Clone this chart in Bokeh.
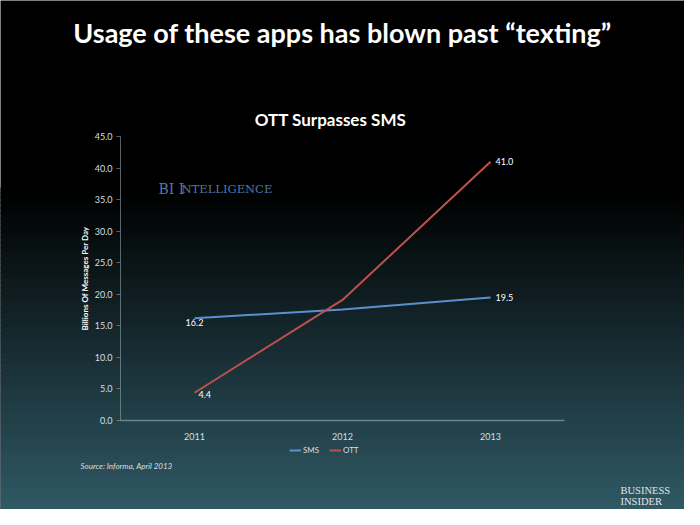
from bokeh.plotting import figure
from bokeh.models import (Range1d, FactorRange, FixedTicker, NumeralTickFormatter, Label,
                          BoxAnnotation, Legend, LegendItem, LinearAxis, CategoricalAxis)
from bokeh.core.properties import value
from bokeh.embed import file_html
from bokeh.resources import INLINE

# ---- data ----
years = ["2011", "2012", "2013"]
sms = [16.2, 17.6, 19.5]
ott = [4.4, 19.1, 41.0]
y_ticks = [0, 5, 10, 15, 20, 25, 30, 35, 40, 45]
main_title = "Usage of these apps has blown past \u201ctexting\u201d"
chart_title = "OTT Surpasses SMS"
y_label = "Billions Of Messages Per Day"
source_note = "Source: Informa, April 2013"
series_names = ["SMS", "OTT"]

FONT = "Lato"
W, H = 684, 509

# plot-area geometry in canvas pixels (the frame fills the whole canvas)
PA_LEFT, PA_RIGHT, PA_TOP, PA_BOTTOM = 121, 565, 136, 420
Y_MIN, Y_MAX = 0.0, 45.0
pad = ((PA_LEFT + (W - PA_RIGHT)) / 2) / ((PA_RIGHT - PA_LEFT) / len(years))
ppu = (PA_BOTTOM - PA_TOP) / (Y_MAX - Y_MIN)
y_range = Range1d(Y_MIN - (H - PA_BOTTOM) / ppu, Y_MAX + PA_TOP / ppu)
x_range = FactorRange(factors=years, range_padding=pad, range_padding_units="absolute")

p = figure(width=W, height=H, x_range=x_range, y_range=y_range,
           x_axis_location=None, y_axis_location=None,
           output_backend="svg", toolbar_location=None,
           min_border=0)
p.border_fill_color = "black"
p.background_fill_color = "black"
p.outline_line_color = None
p.xgrid.grid_line_color = None
p.ygrid.grid_line_color = None


# screen coords (frame = canvas, y up) from reference pixels
def sx(rx):
    return rx - 8


def sy(ry):
    return H + 8 - ry


# background gradient (black until ~y=200, then to teal at bottom)
top_c = (0, 0, 0)
bot_c = (50, 94, 106)
start, end, step = 195, 530, 5
n = (end - start) // step
for i in range(n + 1):
    t = i / n
    r = int(top_c[0] + (bot_c[0] - top_c[0]) * t)
    g = int(top_c[1] + (bot_c[1] - top_c[1]) * t)
    b = int(top_c[2] + (bot_c[2] - top_c[2]) * t)
    ry0 = start + i * step
    p.add_layout(BoxAnnotation(left=-10, right=W + 10, top=sy(ry0), bottom=sy(ry0 + step + 1),
                               left_units="screen", right_units="screen",
                               top_units="screen", bottom_units="screen",
                               fill_color=f"#{r:02x}{g:02x}{b:02x}", fill_alpha=1.0,
                               line_alpha=0, level="underlay"))

axis_col = "#8fa3a8"
lab_col = "#d8dfe0"

# y axis
yaxis = LinearAxis(fixed_location=0, bounds=(Y_MIN, Y_MAX))
yaxis.ticker = FixedTicker(ticks=y_ticks)
yaxis.formatter = NumeralTickFormatter(format="0.0")
yaxis.major_label_text_color = lab_col
yaxis.major_label_text_font = FONT
yaxis.major_label_text_font_size = "9px"
yaxis.axis_line_color = axis_col
yaxis.axis_line_alpha = 0.6
yaxis.major_tick_line_color = axis_col
yaxis.major_tick_line_alpha = 0.6
yaxis.major_tick_out = 4
yaxis.major_tick_in = 0
yaxis.minor_tick_line_color = None
yaxis.major_label_standoff = 4
yaxis.axis_label = y_label
yaxis.axis_label_text_font = FONT
yaxis.axis_label_text_font_style = "bold"
yaxis.axis_label_text_font_size = "8px"
yaxis.axis_label_text_color = "white"
yaxis.axis_label_standoff = 2
p.add_layout(yaxis, "left")

# x axis
xaxis = CategoricalAxis(fixed_location=Y_MIN, bounds=(0, len(years)))
xaxis.major_label_text_color = lab_col
xaxis.major_label_text_font = FONT
xaxis.major_label_text_font_size = "9px"
xaxis.axis_line_color = axis_col
xaxis.axis_line_alpha = 0.7
xaxis.axis_line_width = 1.5
xaxis.major_tick_line_color = None
xaxis.minor_tick_line_color = None
xaxis.major_label_standoff = 6
p.add_layout(xaxis, "below")

# lines
r_sms = p.line(x=years, y=sms, line_color="#5c8fcf", line_width=2)
r_ott = p.line(x=years, y=ott, line_color="#c0504d", line_width=2)

# data labels
lab_kw = dict(text_font=value(FONT), text_font_size=value("9px"), text_color="white")
p.text(x=[years[0]], y=[sms[0]], text=[f"{sms[0]:.1f}"], text_align="center",
       text_baseline="top", y_offset=1, **lab_kw)
p.text(x=[years[2]], y=[sms[2]], text=[f"{sms[2]:.1f}"], text_align="left",
       text_baseline="middle", x_offset=5, **lab_kw)
p.text(x=[years[0]], y=[ott[0]], text=[f"{ott[0]:.1f}"], text_align="left",
       text_baseline="middle", x_offset=4, y_offset=2, **lab_kw)
p.text(x=[years[2]], y=[ott[2]], text=[f"{ott[2]:.1f}"], text_align="left",
       text_baseline="middle", x_offset=5, **lab_kw)

# legend
legend = Legend(items=[LegendItem(label=series_names[0], renderers=[r_sms]),
                       LegendItem(label=series_names[1], renderers=[r_ott])],
                orientation="horizontal", location=(sx(297), sy(463)),
                background_fill_alpha=0, border_line_alpha=0,
                label_text_color=lab_col, label_text_font=FONT,
                label_text_font_size="8px", glyph_width=12, glyph_height=8,
                label_standoff=2, spacing=6, padding=0, margin=0, label_height=8)
p.add_layout(legend)


def add_label(text, rx, ry, size, color="white", style="normal", font=FONT,
              align="center", baseline="middle"):
    p.add_layout(Label(x=sx(rx), y=sy(ry), x_units="screen", y_units="screen", text=text,
                       text_font=font, text_font_size=size, text_font_style=style,
                       text_color=color, text_align=align, text_baseline=baseline))


add_label(main_title, 350, 40, "27px", style="bold")
add_label(chart_title, 338, 127, "17px", style="bold")
add_label(source_note, 88, 473, "8px", color=lab_col, style="italic", align="left")
add_label("BI I", 166, 196, "14px", color="#5279ab", font="DejaVu Serif",
          align="left", baseline="alphabetic")
add_label("NTELLIGENCE", 189, 196, "11.5px", color="#5279ab", font="DejaVu Serif",
          align="left", baseline="alphabetic")
add_label("BUSINESS", 628, 498, "10.5px", color="#e0e6e8", font="Liberation Serif",
          align="left", baseline="alphabetic")
add_label("INSIDER", 628, 509, "10.5px", color="#e0e6e8", font="Liberation Serif",
          align="left", baseline="alphabetic")

open("out.html", "w").write(file_html(p, INLINE))
